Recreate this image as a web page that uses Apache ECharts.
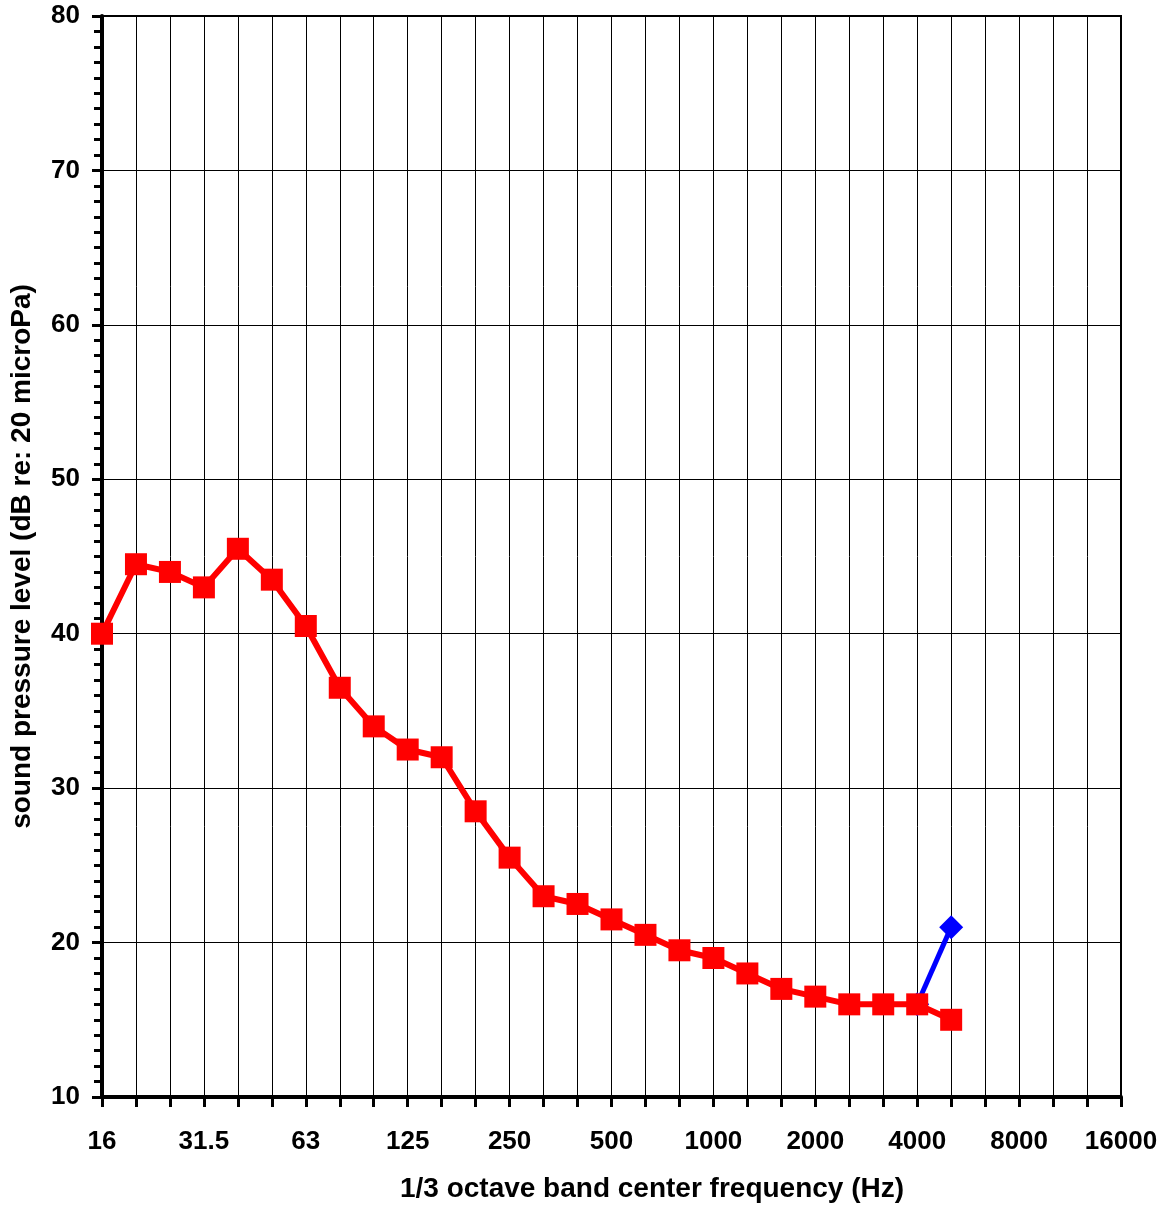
<!DOCTYPE html>
<html>
<head>
<meta charset="utf-8">
<style>
  html, body { margin: 0; padding: 0; background: #fff; }
  #chart { width: 1169px; height: 1207px; }
</style>
<script src="https://cdn.jsdelivr.net/npm/echarts@6/dist/echarts.min.js"></script>
</head>
<body>
<div id="chart"></div>
<script>
// 1/3 octave band centre frequencies (Hz)
const bands = ['16','20','25','31.5','40','50','63','80','100','125','160','200','250','315','400','500','630','800','1000','1250','1600','2000','2500','3150','4000','5000','6300','8000','10000','12500','16000'];

// Measured level per band (dB re: 20 microPa)
const levelMain = [40, 44.5, 44, 43, 45.5, 43.5, 40.5, 36.5, 34, 32.5, 32, 28.5, 25.5, 23, 22.5, 21.5, 20.5, 19.5, 19, 18, 17, 16.5, 16, 16, 16, 15, null, null, null, null, null];

// Alternate reading at the top bands
const levelAlt = [null, null, null, null, null, null, null, null, null, null, null, null, null, null, null, null, null, null, null, null, null, null, null, null, 16, 21, null, null, null, null, null];

const chart = echarts.init(document.getElementById('chart'), null, { renderer: 'canvas' });

const tickFont = { fontFamily: 'Liberation Sans, Arial, sans-serif', fontWeight: 'bold', fontSize: 26, color: '#000' };
const titleFont = { fontFamily: 'Liberation Sans, Arial, sans-serif', fontWeight: 'bold', fontSize: 28, color: '#000' };

chart.setOption({
  animation: false,
  backgroundColor: '#fff',
  grid: {
    left: 102, right: 48, top: 16, bottom: 110,
    outerBoundsMode: 'none',
    containLabel: false,
    show: true, borderColor: '#000', borderWidth: 2, backgroundColor: 'transparent'
  },
  xAxis: {
    type: 'category',
    data: bands,
    boundaryGap: false,
    name: '1/3 octave band center frequency (Hz)',
    nameLocation: 'middle',
    nameGap: 78,
    nameTextStyle: Object.assign({}, titleFont, { padding: [0, 0, 0, 81] }),
    axisLine: { show: true, lineStyle: { color: '#000', width: 4 } },
    axisTick: { show: true, interval: 0, length: 10, lineStyle: { color: '#000', width: 3 } },
    axisLabel: Object.assign({}, tickFont, { interval: 2, margin: 32 }),
    splitLine: { show: true, interval: 0, lineStyle: { color: '#000', width: 1 } }
  },
  yAxis: {
    type: 'value',
    min: 10, max: 80, interval: 10,
    name: 'sound pressure level (dB re: 20 microPa)',
    nameLocation: 'middle',
    nameGap: 66,
    nameTextStyle: titleFont,
    axisLine: { show: true, lineStyle: { color: '#000', width: 4 } },
    axisTick: { show: true, length: 10, lineStyle: { color: '#000', width: 3 } },
    minorTick: { show: true, splitNumber: 10, length: 8, lineStyle: { color: '#000', width: 3 } },
    axisLabel: Object.assign({}, tickFont, { margin: 22 }),
    splitLine: { show: true, lineStyle: { color: '#000', width: 1 } }
  },
  series: [
    {
      name: 'alt',
      type: 'line',
      data: levelAlt,
      z: 2,
      symbol: 'diamond',
      symbolSize: 24,
      showAllSymbol: true,
      connectNulls: false,
      lineStyle: { color: '#0000ff', width: 5 },
      itemStyle: { color: '#0000ff' }
    },
    {
      name: 'main',
      type: 'line',
      data: levelMain,
      z: 3,
      symbol: 'rect',
      symbolSize: 22,
      showAllSymbol: true,
      connectNulls: false,
      lineStyle: { color: '#ff0000', width: 6 },
      itemStyle: { color: '#ff0000' }
    }
  ]
});
</script>
</body>
</html>
